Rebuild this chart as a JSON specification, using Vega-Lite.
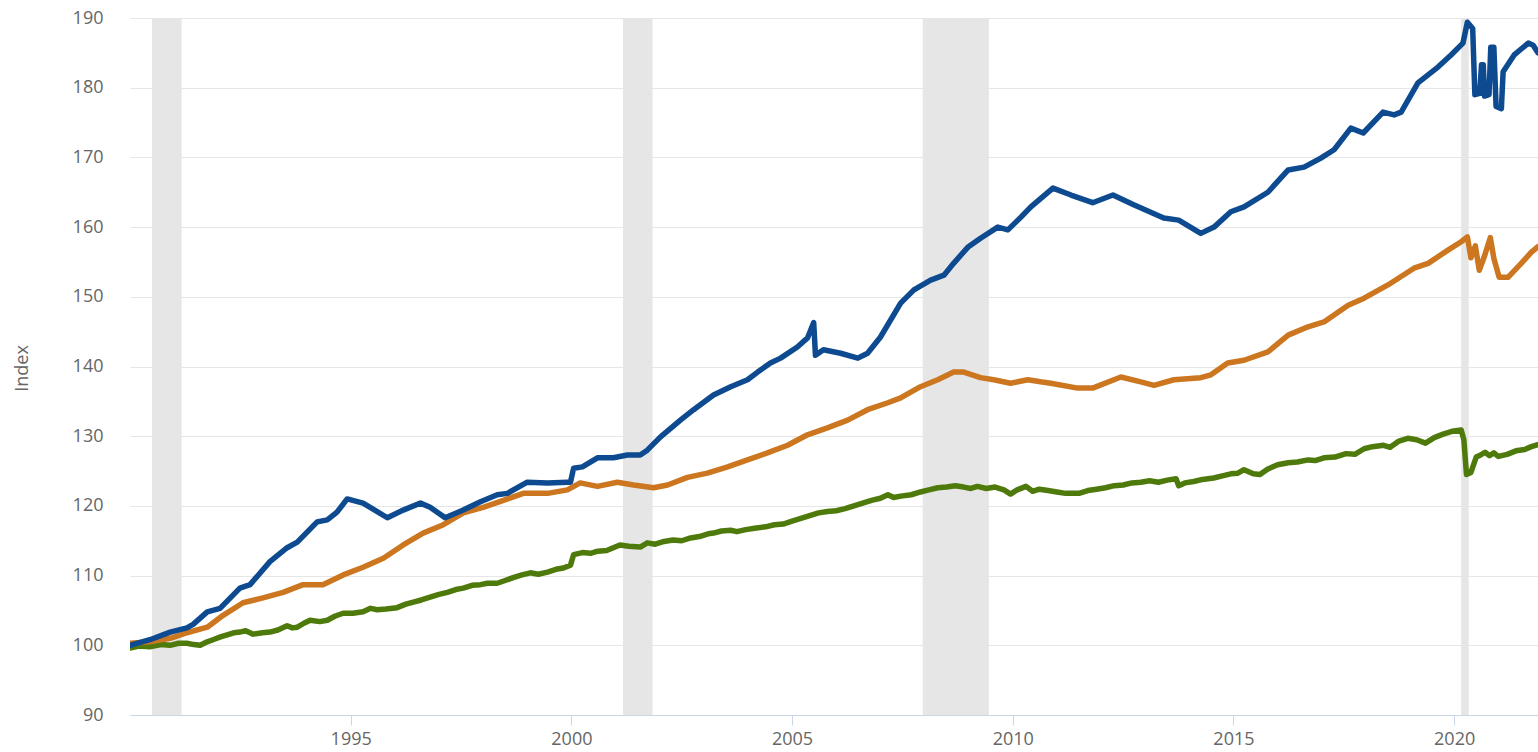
{
  "$schema": "https://vega.github.io/schema/vega-lite/v6.json",
  "width": 1408,
  "height": 697,
  "autosize": {"type": "none"},
  "padding": {"left": 130, "top": 18, "right": 0, "bottom": 37},
  "background": "white",
  "config": {
    "view": {"stroke": null},
    "font": "Open Sans"
  },
  "datasets": {
    "rec": [
      {"start": 1990.5, "end": 1991.17},
      {"start": 2001.17, "end": 2001.84},
      {"start": 2007.96, "end": 2009.46},
      {"start": 2020.16, "end": 2020.33}
    ],
    "series": [
      {"series": "Series 3", "year": 1990.0, "value": 99.6},
      {"series": "Series 3", "year": 1990.2, "value": 99.9},
      {"series": "Series 3", "year": 1990.45, "value": 99.8},
      {"series": "Series 3", "year": 1990.7, "value": 100.1},
      {"series": "Series 3", "year": 1990.91, "value": 100.0},
      {"series": "Series 3", "year": 1991.1, "value": 100.3},
      {"series": "Series 3", "year": 1991.29, "value": 100.3},
      {"series": "Series 3", "year": 1991.45, "value": 100.1},
      {"series": "Series 3", "year": 1991.59, "value": 100.0},
      {"series": "Series 3", "year": 1991.75, "value": 100.5},
      {"series": "Series 3", "year": 1991.88, "value": 100.8},
      {"series": "Series 3", "year": 1992.05, "value": 101.2},
      {"series": "Series 3", "year": 1992.2, "value": 101.5},
      {"series": "Series 3", "year": 1992.35, "value": 101.8},
      {"series": "Series 3", "year": 1992.49, "value": 101.9},
      {"series": "Series 3", "year": 1992.62, "value": 102.1},
      {"series": "Series 3", "year": 1992.79, "value": 101.6},
      {"series": "Series 3", "year": 1993.0, "value": 101.8},
      {"series": "Series 3", "year": 1993.17, "value": 101.9},
      {"series": "Series 3", "year": 1993.35, "value": 102.2},
      {"series": "Series 3", "year": 1993.56, "value": 102.8},
      {"series": "Series 3", "year": 1993.68, "value": 102.5},
      {"series": "Series 3", "year": 1993.79, "value": 102.6},
      {"series": "Series 3", "year": 1993.95, "value": 103.2},
      {"series": "Series 3", "year": 1994.08, "value": 103.6},
      {"series": "Series 3", "year": 1994.3, "value": 103.4},
      {"series": "Series 3", "year": 1994.47, "value": 103.6},
      {"series": "Series 3", "year": 1994.65, "value": 104.2},
      {"series": "Series 3", "year": 1994.83, "value": 104.6},
      {"series": "Series 3", "year": 1995.05, "value": 104.6},
      {"series": "Series 3", "year": 1995.28, "value": 104.8},
      {"series": "Series 3", "year": 1995.45, "value": 105.3},
      {"series": "Series 3", "year": 1995.6, "value": 105.1},
      {"series": "Series 3", "year": 1995.8, "value": 105.2},
      {"series": "Series 3", "year": 1996.05, "value": 105.4},
      {"series": "Series 3", "year": 1996.25, "value": 105.9},
      {"series": "Series 3", "year": 1996.42, "value": 106.2},
      {"series": "Series 3", "year": 1996.6, "value": 106.5},
      {"series": "Series 3", "year": 1996.8, "value": 106.9},
      {"series": "Series 3", "year": 1997.0, "value": 107.3},
      {"series": "Series 3", "year": 1997.19, "value": 107.6},
      {"series": "Series 3", "year": 1997.38, "value": 108.0},
      {"series": "Series 3", "year": 1997.55, "value": 108.2},
      {"series": "Series 3", "year": 1997.75, "value": 108.6},
      {"series": "Series 3", "year": 1997.94, "value": 108.7},
      {"series": "Series 3", "year": 1998.1, "value": 108.9},
      {"series": "Series 3", "year": 1998.32, "value": 108.9},
      {"series": "Series 3", "year": 1998.5, "value": 109.3},
      {"series": "Series 3", "year": 1998.68, "value": 109.7},
      {"series": "Series 3", "year": 1998.88, "value": 110.1},
      {"series": "Series 3", "year": 1999.07, "value": 110.4},
      {"series": "Series 3", "year": 1999.25, "value": 110.2},
      {"series": "Series 3", "year": 1999.46, "value": 110.5},
      {"series": "Series 3", "year": 1999.65, "value": 110.9},
      {"series": "Series 3", "year": 1999.82, "value": 111.1},
      {"series": "Series 3", "year": 1999.98, "value": 111.5},
      {"series": "Series 3", "year": 2000.05, "value": 113.0},
      {"series": "Series 3", "year": 2000.25, "value": 113.3},
      {"series": "Series 3", "year": 2000.43, "value": 113.2},
      {"series": "Series 3", "year": 2000.6, "value": 113.5},
      {"series": "Series 3", "year": 2000.8, "value": 113.6},
      {"series": "Series 3", "year": 2000.95, "value": 114.0},
      {"series": "Series 3", "year": 2001.1, "value": 114.4},
      {"series": "Series 3", "year": 2001.3, "value": 114.2},
      {"series": "Series 3", "year": 2001.56, "value": 114.1},
      {"series": "Series 3", "year": 2001.72, "value": 114.7},
      {"series": "Series 3", "year": 2001.9, "value": 114.5},
      {"series": "Series 3", "year": 2002.1, "value": 114.9},
      {"series": "Series 3", "year": 2002.3, "value": 115.1},
      {"series": "Series 3", "year": 2002.5, "value": 115.0},
      {"series": "Series 3", "year": 2002.7, "value": 115.4},
      {"series": "Series 3", "year": 2002.9, "value": 115.6},
      {"series": "Series 3", "year": 2003.1, "value": 116.0},
      {"series": "Series 3", "year": 2003.22, "value": 116.1},
      {"series": "Series 3", "year": 2003.4, "value": 116.4},
      {"series": "Series 3", "year": 2003.61, "value": 116.5},
      {"series": "Series 3", "year": 2003.75, "value": 116.3},
      {"series": "Series 3", "year": 2003.95, "value": 116.6},
      {"series": "Series 3", "year": 2004.15, "value": 116.8},
      {"series": "Series 3", "year": 2004.4, "value": 117.0},
      {"series": "Series 3", "year": 2004.6, "value": 117.3},
      {"series": "Series 3", "year": 2004.8, "value": 117.4},
      {"series": "Series 3", "year": 2005.0, "value": 117.8},
      {"series": "Series 3", "year": 2005.2, "value": 118.2},
      {"series": "Series 3", "year": 2005.4, "value": 118.6},
      {"series": "Series 3", "year": 2005.6, "value": 119.0},
      {"series": "Series 3", "year": 2005.8, "value": 119.2},
      {"series": "Series 3", "year": 2006.0, "value": 119.3},
      {"series": "Series 3", "year": 2006.2, "value": 119.6},
      {"series": "Series 3", "year": 2006.4, "value": 120.0},
      {"series": "Series 3", "year": 2006.6, "value": 120.4},
      {"series": "Series 3", "year": 2006.8, "value": 120.8},
      {"series": "Series 3", "year": 2007.0, "value": 121.1},
      {"series": "Series 3", "year": 2007.17, "value": 121.6},
      {"series": "Series 3", "year": 2007.3, "value": 121.2},
      {"series": "Series 3", "year": 2007.46, "value": 121.4},
      {"series": "Series 3", "year": 2007.7, "value": 121.6},
      {"series": "Series 3", "year": 2007.91, "value": 122.0},
      {"series": "Series 3", "year": 2008.1, "value": 122.3},
      {"series": "Series 3", "year": 2008.3, "value": 122.6},
      {"series": "Series 3", "year": 2008.5, "value": 122.7},
      {"series": "Series 3", "year": 2008.7, "value": 122.9},
      {"series": "Series 3", "year": 2008.89, "value": 122.7},
      {"series": "Series 3", "year": 2009.05, "value": 122.5},
      {"series": "Series 3", "year": 2009.2, "value": 122.8},
      {"series": "Series 3", "year": 2009.4, "value": 122.5},
      {"series": "Series 3", "year": 2009.6, "value": 122.7},
      {"series": "Series 3", "year": 2009.8, "value": 122.3},
      {"series": "Series 3", "year": 2009.95, "value": 121.7},
      {"series": "Series 3", "year": 2010.1, "value": 122.3},
      {"series": "Series 3", "year": 2010.3, "value": 122.8},
      {"series": "Series 3", "year": 2010.45, "value": 122.1},
      {"series": "Series 3", "year": 2010.6, "value": 122.4},
      {"series": "Series 3", "year": 2010.8, "value": 122.2},
      {"series": "Series 3", "year": 2011.0, "value": 122.0},
      {"series": "Series 3", "year": 2011.2, "value": 121.8},
      {"series": "Series 3", "year": 2011.5, "value": 121.8},
      {"series": "Series 3", "year": 2011.7, "value": 122.2},
      {"series": "Series 3", "year": 2011.9, "value": 122.4},
      {"series": "Series 3", "year": 2012.1, "value": 122.6},
      {"series": "Series 3", "year": 2012.3, "value": 122.9},
      {"series": "Series 3", "year": 2012.5, "value": 123.0},
      {"series": "Series 3", "year": 2012.7, "value": 123.3},
      {"series": "Series 3", "year": 2012.9, "value": 123.4},
      {"series": "Series 3", "year": 2013.1, "value": 123.6},
      {"series": "Series 3", "year": 2013.3, "value": 123.4},
      {"series": "Series 3", "year": 2013.5, "value": 123.7},
      {"series": "Series 3", "year": 2013.7, "value": 123.9},
      {"series": "Series 3", "year": 2013.76, "value": 122.9},
      {"series": "Series 3", "year": 2013.9, "value": 123.3},
      {"series": "Series 3", "year": 2014.1, "value": 123.5},
      {"series": "Series 3", "year": 2014.3, "value": 123.8},
      {"series": "Series 3", "year": 2014.55, "value": 124.0},
      {"series": "Series 3", "year": 2014.75, "value": 124.3},
      {"series": "Series 3", "year": 2014.94, "value": 124.6},
      {"series": "Series 3", "year": 2015.1, "value": 124.7},
      {"series": "Series 3", "year": 2015.24, "value": 125.2},
      {"series": "Series 3", "year": 2015.45, "value": 124.6},
      {"series": "Series 3", "year": 2015.6, "value": 124.5},
      {"series": "Series 3", "year": 2015.78, "value": 125.3},
      {"series": "Series 3", "year": 2016.0, "value": 125.9},
      {"series": "Series 3", "year": 2016.24, "value": 126.2},
      {"series": "Series 3", "year": 2016.45, "value": 126.3},
      {"series": "Series 3", "year": 2016.69, "value": 126.6},
      {"series": "Series 3", "year": 2016.85, "value": 126.5},
      {"series": "Series 3", "year": 2017.05, "value": 126.9},
      {"series": "Series 3", "year": 2017.3, "value": 127.0},
      {"series": "Series 3", "year": 2017.55, "value": 127.5},
      {"series": "Series 3", "year": 2017.75, "value": 127.4},
      {"series": "Series 3", "year": 2017.96, "value": 128.2},
      {"series": "Series 3", "year": 2018.15, "value": 128.5},
      {"series": "Series 3", "year": 2018.4, "value": 128.7},
      {"series": "Series 3", "year": 2018.55, "value": 128.4},
      {"series": "Series 3", "year": 2018.75, "value": 129.3},
      {"series": "Series 3", "year": 2018.95, "value": 129.7},
      {"series": "Series 3", "year": 2019.15, "value": 129.5},
      {"series": "Series 3", "year": 2019.35, "value": 129.0},
      {"series": "Series 3", "year": 2019.55, "value": 129.8},
      {"series": "Series 3", "year": 2019.75, "value": 130.3},
      {"series": "Series 3", "year": 2019.95, "value": 130.7},
      {"series": "Series 3", "year": 2020.16, "value": 130.9},
      {"series": "Series 3", "year": 2020.22, "value": 129.5},
      {"series": "Series 3", "year": 2020.28, "value": 124.5},
      {"series": "Series 3", "year": 2020.38, "value": 124.8},
      {"series": "Series 3", "year": 2020.5, "value": 127.0},
      {"series": "Series 3", "year": 2020.6, "value": 127.3},
      {"series": "Series 3", "year": 2020.7, "value": 127.7},
      {"series": "Series 3", "year": 2020.8, "value": 127.2},
      {"series": "Series 3", "year": 2020.9, "value": 127.6},
      {"series": "Series 3", "year": 2021.0, "value": 127.1},
      {"series": "Series 3", "year": 2021.2, "value": 127.4},
      {"series": "Series 3", "year": 2021.4, "value": 127.9},
      {"series": "Series 3", "year": 2021.6, "value": 128.1},
      {"series": "Series 3", "year": 2021.75, "value": 128.5},
      {"series": "Series 3", "year": 2021.9, "value": 128.8},

      {"series": "Series 2", "year": 1990.0, "value": 100.3},
      {"series": "Series 2", "year": 1990.45, "value": 100.5},
      {"series": "Series 2", "year": 1990.91, "value": 101.0},
      {"series": "Series 2", "year": 1991.29, "value": 101.8},
      {"series": "Series 2", "year": 1991.75, "value": 102.6},
      {"series": "Series 2", "year": 1992.11, "value": 104.3},
      {"series": "Series 2", "year": 1992.56, "value": 106.1},
      {"series": "Series 2", "year": 1993.01, "value": 106.8},
      {"series": "Series 2", "year": 1993.47, "value": 107.6},
      {"series": "Series 2", "year": 1993.92, "value": 108.7},
      {"series": "Series 2", "year": 1994.37, "value": 108.7},
      {"series": "Series 2", "year": 1994.83, "value": 110.1},
      {"series": "Series 2", "year": 1995.28, "value": 111.2},
      {"series": "Series 2", "year": 1995.74, "value": 112.5},
      {"series": "Series 2", "year": 1996.19, "value": 114.4},
      {"series": "Series 2", "year": 1996.64, "value": 116.1},
      {"series": "Series 2", "year": 1997.1, "value": 117.3},
      {"series": "Series 2", "year": 1997.55, "value": 119.0},
      {"series": "Series 2", "year": 1998.0, "value": 119.8},
      {"series": "Series 2", "year": 1998.46, "value": 120.8},
      {"series": "Series 2", "year": 1998.91, "value": 121.8},
      {"series": "Series 2", "year": 1999.46, "value": 121.8},
      {"series": "Series 2", "year": 1999.91, "value": 122.3},
      {"series": "Series 2", "year": 2000.2, "value": 123.3},
      {"series": "Series 2", "year": 2000.59, "value": 122.8},
      {"series": "Series 2", "year": 2001.04, "value": 123.4},
      {"series": "Series 2", "year": 2001.41, "value": 123.0},
      {"series": "Series 2", "year": 2001.86, "value": 122.6},
      {"series": "Series 2", "year": 2002.18, "value": 123.0},
      {"series": "Series 2", "year": 2002.63, "value": 124.1},
      {"series": "Series 2", "year": 2003.08, "value": 124.7},
      {"series": "Series 2", "year": 2003.54, "value": 125.6},
      {"series": "Series 2", "year": 2003.99, "value": 126.6},
      {"series": "Series 2", "year": 2004.44, "value": 127.6},
      {"series": "Series 2", "year": 2004.9, "value": 128.7},
      {"series": "Series 2", "year": 2005.35, "value": 130.2},
      {"series": "Series 2", "year": 2005.8, "value": 131.2},
      {"series": "Series 2", "year": 2006.26, "value": 132.3},
      {"series": "Series 2", "year": 2006.71, "value": 133.8},
      {"series": "Series 2", "year": 2007.17, "value": 134.8},
      {"series": "Series 2", "year": 2007.46, "value": 135.5},
      {"series": "Series 2", "year": 2007.91, "value": 137.1},
      {"series": "Series 2", "year": 2008.3, "value": 138.1},
      {"series": "Series 2", "year": 2008.66, "value": 139.2},
      {"series": "Series 2", "year": 2008.89, "value": 139.2},
      {"series": "Series 2", "year": 2009.27, "value": 138.4},
      {"series": "Series 2", "year": 2009.57, "value": 138.1},
      {"series": "Series 2", "year": 2009.95, "value": 137.6},
      {"series": "Series 2", "year": 2010.34, "value": 138.1},
      {"series": "Series 2", "year": 2010.63, "value": 137.8},
      {"series": "Series 2", "year": 2010.86, "value": 137.6},
      {"series": "Series 2", "year": 2011.47, "value": 136.9},
      {"series": "Series 2", "year": 2011.81, "value": 136.9},
      {"series": "Series 2", "year": 2012.45, "value": 138.5},
      {"series": "Series 2", "year": 2012.9, "value": 137.8},
      {"series": "Series 2", "year": 2013.2, "value": 137.3},
      {"series": "Series 2", "year": 2013.65, "value": 138.1},
      {"series": "Series 2", "year": 2014.26, "value": 138.4},
      {"series": "Series 2", "year": 2014.49, "value": 138.8},
      {"series": "Series 2", "year": 2014.87, "value": 140.5},
      {"series": "Series 2", "year": 2015.24, "value": 140.9},
      {"series": "Series 2", "year": 2015.78, "value": 142.1},
      {"series": "Series 2", "year": 2016.24, "value": 144.5},
      {"series": "Series 2", "year": 2016.69, "value": 145.7},
      {"series": "Series 2", "year": 2017.05, "value": 146.4},
      {"series": "Series 2", "year": 2017.6, "value": 148.8},
      {"series": "Series 2", "year": 2017.96, "value": 149.8},
      {"series": "Series 2", "year": 2018.5, "value": 151.7},
      {"series": "Series 2", "year": 2019.09, "value": 154.1},
      {"series": "Series 2", "year": 2019.41, "value": 154.8},
      {"series": "Series 2", "year": 2019.86, "value": 156.7},
      {"series": "Series 2", "year": 2020.16, "value": 157.9},
      {"series": "Series 2", "year": 2020.3, "value": 158.6},
      {"series": "Series 2", "year": 2020.38, "value": 155.6},
      {"series": "Series 2", "year": 2020.48, "value": 157.3},
      {"series": "Series 2", "year": 2020.57, "value": 153.8},
      {"series": "Series 2", "year": 2020.68, "value": 155.7},
      {"series": "Series 2", "year": 2020.82, "value": 158.5},
      {"series": "Series 2", "year": 2020.9, "value": 155.5},
      {"series": "Series 2", "year": 2021.02, "value": 152.8},
      {"series": "Series 2", "year": 2021.22, "value": 152.8},
      {"series": "Series 2", "year": 2021.52, "value": 154.8},
      {"series": "Series 2", "year": 2021.75, "value": 156.4},
      {"series": "Series 2", "year": 2021.9, "value": 157.2},

      {"series": "Series 1", "year": 1990.0, "value": 100.0},
      {"series": "Series 1", "year": 1990.45, "value": 100.8},
      {"series": "Series 1", "year": 1990.91, "value": 101.9},
      {"series": "Series 1", "year": 1991.29, "value": 102.5},
      {"series": "Series 1", "year": 1991.43, "value": 103.0},
      {"series": "Series 1", "year": 1991.75, "value": 104.8},
      {"series": "Series 1", "year": 1992.04, "value": 105.3},
      {"series": "Series 1", "year": 1992.49, "value": 108.2},
      {"series": "Series 1", "year": 1992.72, "value": 108.7},
      {"series": "Series 1", "year": 1993.17, "value": 112.0},
      {"series": "Series 1", "year": 1993.56, "value": 114.0},
      {"series": "Series 1", "year": 1993.79, "value": 114.8},
      {"series": "Series 1", "year": 1994.24, "value": 117.7},
      {"series": "Series 1", "year": 1994.47, "value": 118.0},
      {"series": "Series 1", "year": 1994.69, "value": 119.1},
      {"series": "Series 1", "year": 1994.92, "value": 121.0},
      {"series": "Series 1", "year": 1995.28, "value": 120.4},
      {"series": "Series 1", "year": 1995.83, "value": 118.3},
      {"series": "Series 1", "year": 1996.19, "value": 119.4},
      {"series": "Series 1", "year": 1996.58, "value": 120.4},
      {"series": "Series 1", "year": 1996.8, "value": 119.8},
      {"series": "Series 1", "year": 1997.14, "value": 118.3},
      {"series": "Series 1", "year": 1997.55, "value": 119.4},
      {"series": "Series 1", "year": 1997.94, "value": 120.6},
      {"series": "Series 1", "year": 1998.32, "value": 121.6},
      {"series": "Series 1", "year": 1998.55, "value": 121.8},
      {"series": "Series 1", "year": 1999.0, "value": 123.4},
      {"series": "Series 1", "year": 1999.46, "value": 123.3},
      {"series": "Series 1", "year": 1999.91, "value": 123.4},
      {"series": "Series 1", "year": 1999.98, "value": 123.4},
      {"series": "Series 1", "year": 2000.05, "value": 125.4},
      {"series": "Series 1", "year": 2000.25, "value": 125.6},
      {"series": "Series 1", "year": 2000.59, "value": 126.9},
      {"series": "Series 1", "year": 2000.95, "value": 126.9},
      {"series": "Series 1", "year": 2001.27, "value": 127.3},
      {"series": "Series 1", "year": 2001.56, "value": 127.3},
      {"series": "Series 1", "year": 2001.72, "value": 128.0},
      {"series": "Series 1", "year": 2002.02, "value": 129.9},
      {"series": "Series 1", "year": 2002.47, "value": 132.3},
      {"series": "Series 1", "year": 2002.77, "value": 133.8},
      {"series": "Series 1", "year": 2003.22, "value": 135.9},
      {"series": "Series 1", "year": 2003.61, "value": 137.1},
      {"series": "Series 1", "year": 2003.99, "value": 138.1},
      {"series": "Series 1", "year": 2004.22, "value": 139.2},
      {"series": "Series 1", "year": 2004.51, "value": 140.5},
      {"series": "Series 1", "year": 2004.74, "value": 141.2},
      {"series": "Series 1", "year": 2005.12, "value": 142.8},
      {"series": "Series 1", "year": 2005.35, "value": 144.1},
      {"series": "Series 1", "year": 2005.49, "value": 146.3},
      {"series": "Series 1", "year": 2005.53, "value": 141.6},
      {"series": "Series 1", "year": 2005.71, "value": 142.4},
      {"series": "Series 1", "year": 2006.1, "value": 141.9},
      {"series": "Series 1", "year": 2006.49, "value": 141.2},
      {"series": "Series 1", "year": 2006.71, "value": 141.9},
      {"series": "Series 1", "year": 2007.0, "value": 144.2},
      {"series": "Series 1", "year": 2007.46, "value": 149.1},
      {"series": "Series 1", "year": 2007.76, "value": 151.0},
      {"series": "Series 1", "year": 2008.14, "value": 152.4},
      {"series": "Series 1", "year": 2008.44, "value": 153.1},
      {"series": "Series 1", "year": 2008.66, "value": 154.8},
      {"series": "Series 1", "year": 2008.98, "value": 157.1},
      {"series": "Series 1", "year": 2009.27, "value": 158.4},
      {"series": "Series 1", "year": 2009.66, "value": 160.0},
      {"series": "Series 1", "year": 2009.89, "value": 159.6},
      {"series": "Series 1", "year": 2010.18, "value": 161.4},
      {"series": "Series 1", "year": 2010.41, "value": 162.9},
      {"series": "Series 1", "year": 2010.91, "value": 165.6},
      {"series": "Series 1", "year": 2011.32, "value": 164.6},
      {"series": "Series 1", "year": 2011.81, "value": 163.5},
      {"series": "Series 1", "year": 2012.27, "value": 164.6},
      {"series": "Series 1", "year": 2012.74, "value": 163.2},
      {"series": "Series 1", "year": 2013.42, "value": 161.3},
      {"series": "Series 1", "year": 2013.76, "value": 161.0},
      {"series": "Series 1", "year": 2014.26, "value": 159.1},
      {"series": "Series 1", "year": 2014.56, "value": 160.0},
      {"series": "Series 1", "year": 2014.94, "value": 162.2},
      {"series": "Series 1", "year": 2015.24, "value": 162.9},
      {"series": "Series 1", "year": 2015.78, "value": 165.0},
      {"series": "Series 1", "year": 2016.24, "value": 168.2},
      {"series": "Series 1", "year": 2016.6, "value": 168.6},
      {"series": "Series 1", "year": 2016.98, "value": 169.9},
      {"series": "Series 1", "year": 2017.28, "value": 171.1},
      {"series": "Series 1", "year": 2017.66, "value": 174.2},
      {"series": "Series 1", "year": 2017.94, "value": 173.5},
      {"series": "Series 1", "year": 2018.39, "value": 176.5},
      {"series": "Series 1", "year": 2018.64, "value": 176.1},
      {"series": "Series 1", "year": 2018.8, "value": 176.5},
      {"series": "Series 1", "year": 2019.18, "value": 180.7},
      {"series": "Series 1", "year": 2019.64, "value": 183.0},
      {"series": "Series 1", "year": 2019.93, "value": 184.7},
      {"series": "Series 1", "year": 2020.2, "value": 186.4},
      {"series": "Series 1", "year": 2020.3, "value": 189.4},
      {"series": "Series 1", "year": 2020.42, "value": 188.5},
      {"series": "Series 1", "year": 2020.47, "value": 179.0},
      {"series": "Series 1", "year": 2020.58, "value": 179.2},
      {"series": "Series 1", "year": 2020.62, "value": 183.3},
      {"series": "Series 1", "year": 2020.66, "value": 183.3},
      {"series": "Series 1", "year": 2020.69, "value": 178.8},
      {"series": "Series 1", "year": 2020.79, "value": 179.0},
      {"series": "Series 1", "year": 2020.83, "value": 185.8},
      {"series": "Series 1", "year": 2020.9, "value": 185.8},
      {"series": "Series 1", "year": 2020.95, "value": 177.3},
      {"series": "Series 1", "year": 2021.07, "value": 177.0},
      {"series": "Series 1", "year": 2021.11, "value": 182.3},
      {"series": "Series 1", "year": 2021.36, "value": 184.7},
      {"series": "Series 1", "year": 2021.68, "value": 186.4},
      {"series": "Series 1", "year": 2021.79, "value": 186.1},
      {"series": "Series 1", "year": 2021.9, "value": 185.0}
    ]
  },
  "layer": [
    {
      "data": {"name": "rec"},
      "mark": {"type": "rect", "color": "#e6e6e6"},
      "encoding": {
        "x": {"field": "start", "type": "quantitative", "scale": {"domain": [1990, 2021.9], "nice": false, "zero": false}},
        "x2": {"field": "end"}
      }
    },
    {
      "data": {"name": "series"},
      "mark": {"type": "line", "strokeWidth": 5.5, "strokeJoin": "round", "strokeCap": "round", "clip": true},
      "encoding": {
        "x": {
          "field": "year", "type": "quantitative",
          "scale": {"domain": [1990, 2021.9], "nice": false, "zero": false},
          "axis": {
            "title": null,
            "values": [1995, 2000, 2005, 2010, 2015, 2020],
            "format": "d",
            "grid": false,
            "tickSize": 10,
            "tickColor": "#ccd6eb",
            "domainColor": "#ccd6eb",
            "labelFont": "Open Sans",
            "labelFontSize": 18,
            "labelColor": "#666666",
            "labelPadding": 5
          }
        },
        "y": {
          "field": "value", "type": "quantitative",
          "scale": {"domain": [90, 190], "nice": false, "zero": false},
          "axis": {
            "title": "Index",
            "values": [90, 100, 110, 120, 130, 140, 150, 160, 170, 180, 190],
            "grid": true,
            "gridColor": "#e6e6e6",
            "ticks": false,
            "domain": false,
            "labelFont": "Open Sans",
            "labelFontSize": 18,
            "labelColor": "#666666",
            "labelPadding": 27,
            "titleFont": "Open Sans",
            "titleFontSize": 18,
            "titleFontWeight": "normal",
            "titleColor": "#666666",
            "titleX": -103,
            "titleY": 350,
            "titleAngle": -90,
            "titleBaseline": "alphabetic",
            "titleAlign": "center"
          }
        },
        "color": {
          "field": "series", "type": "nominal",
          "scale": {"domain": ["Series 1", "Series 2", "Series 3"], "range": ["#0d4a90", "#cc761f", "#4e7a0c"]},
          "legend": null
        },
        "order": {"field": "year", "type": "quantitative"}
      }
    }
  ]
}
